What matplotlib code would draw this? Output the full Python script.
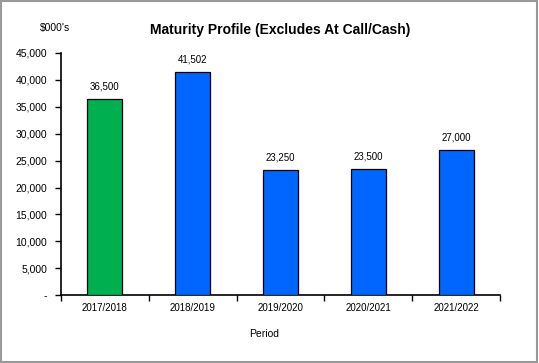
import numpy as np
import matplotlib.pyplot as plt
from matplotlib.ticker import FuncFormatter

plt.rcParams['font.family'] = ['Liberation Sans', 'DejaVu Sans']

# Daten
periods = ['2017/2018', '2018/2019', '2019/2020', '2020/2021', '2021/2022']
values = [36500, 41502, 23250, 23500, 27000]
colors = ['#00B050', '#0066FF', '#0066FF', '#0066FF', '#0066FF']

fig = plt.figure(figsize=(5.39, 3.63), dpi=100)
ax = fig.add_axes([0.113, 0.187, 0.815, 0.667])

x = np.arange(len(periods))
bars = ax.bar(x, values, width=0.4, color=colors, edgecolor='black', linewidth=0.9, zorder=3)

for xi, v in zip(x, values):
    ax.text(xi, v + 1400, f'{v:,}', ha='center', va='bottom', fontsize=7)

ax.set_xlim(-0.5, len(periods) - 0.5)
ax.set_ylim(0, 45000)
ax.set_yticks(np.arange(0, 45001, 5000))
ax.yaxis.set_major_formatter(FuncFormatter(lambda v, p: '-' if v == 0 else f'{int(v):,}'))

# x-Ticks zwischen den Kategorien
ax.set_xticks(np.arange(-0.5, len(periods), 1.0))
ax.set_xticklabels([])
ax.set_xticks(x, minor=True)
ax.set_xticklabels(periods, minor=True, fontsize=7)
ax.tick_params(axis='x', which='minor', length=0, pad=6)
ax.tick_params(axis='x', which='major', length=4, direction='out', width=1)
ax.tick_params(axis='y', length=4, direction='out', width=1, labelsize=7.5, pad=6)

for s in ['top', 'right']:
    ax.spines[s].set_visible(False)
ax.spines['left'].set_linewidth(1.2)
ax.spines['bottom'].set_linewidth(1.2)

fig.text(0.52, 0.918, 'Maturity Profile (Excludes At Call/Cash)', ha='center', va='center',
         fontsize=10, fontweight='bold')
fig.text(0.102, 0.922, "$000's", ha='center', va='center', fontsize=7.5)
fig.text(0.49, 0.08, 'Period', ha='center', va='center', fontsize=7.5)

# Rahmen
fig.patches.append(plt.Rectangle((0.002, 0.003), 0.995, 0.994, transform=fig.transFigure,
                                 fill=False, edgecolor='#999999', linewidth=1.5))

fig.savefig('out.png', dpi=100)
